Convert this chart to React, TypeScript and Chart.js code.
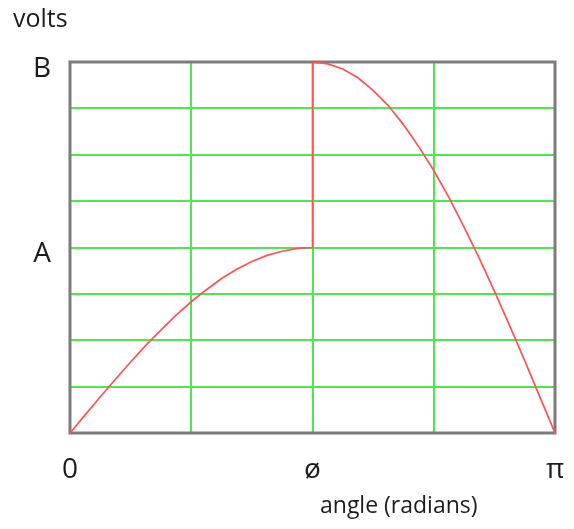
import { useEffect, useRef } from 'react';
import { Chart, registerables } from 'chart.js';

Chart.register(...registerables);

// Angle as a fraction of π, and the voltage at each angle (A = 4, B = 8 units).
const angleFrac = [
  0, 0.03125, 0.0625, 0.09375, 0.125, 0.15625, 0.1875, 0.21875, 0.25,
  0.28125, 0.3125, 0.34375, 0.375, 0.40625, 0.4375, 0.46875, 0.5,
  0.5, 0.53125, 0.5625, 0.59375, 0.625, 0.65625, 0.6875, 0.71875, 0.75,
  0.78125, 0.8125, 0.84375, 0.875, 0.90625, 0.9375, 0.96875, 1,
];
const volts = [
  0, 0.39, 0.78, 1.16, 1.53, 1.89, 2.22, 2.54, 2.83,
  3.09, 3.33, 3.53, 3.7, 3.83, 3.92, 3.98, 4.0,
  8.0, 7.96, 7.85, 7.66, 7.39, 7.06, 6.65, 6.18, 5.66,
  5.08, 4.44, 3.77, 3.06, 2.32, 1.56, 0.78, 0,
];

const xTickValues = [0, 0.5, 1];
const xTickLabels = ['0', 'ø', 'π'];
const yTickValues = [4, 8];
const yTickLabels = ['A', 'B'];
const yAxisTitle = 'volts';
const xAxisTitle = 'angle (radians)';

const textColor = '#1c1c1c';
const fontFamily = '"Open Sans", sans-serif';

// Grey frame around the plot area, drawn under the curve.
const framePlugin = {
  id: 'frame',
  beforeDatasetsDraw(chart: any) {
    const { ctx, chartArea } = chart;
    const { left, top, right, bottom } = chartArea;
    ctx.save();
    ctx.strokeStyle = '#7c7c7c';
    ctx.lineWidth = 3;
    ctx.strokeRect(left, top, right - left, bottom - top);
    ctx.restore();
  },
};

// Free-standing axis titles.
const titlesPlugin = {
  id: 'axisTitles',
  afterDraw(chart: any) {
    const { ctx, chartArea } = chart;
    ctx.save();
    ctx.fillStyle = textColor;
    ctx.textAlign = 'left';
    ctx.textBaseline = 'alphabetic';
    ctx.font = `25px ${fontFamily}`;
    ctx.fillText(yAxisTitle, chartArea.left - 57, chartArea.top - 35);
    ctx.font = `23px ${fontFamily}`;
    ctx.fillText(xAxisTitle, chartArea.left + 250, chartArea.bottom + 80);
    ctx.restore();
  },
};

export default function App() {
  const canvasRef = useRef<HTMLCanvasElement | null>(null);

  useEffect(() => {
    if (!canvasRef.current) return;
    const chart = new Chart(canvasRef.current, {
      type: 'line',
      data: {
        datasets: [
          {
            data: angleFrac.map((x, i) => ({ x, y: volts[i] })),
            borderColor: '#ff5252',
            borderWidth: 1.7,
            pointRadius: 0,
            tension: 0,
            fill: false,
          },
        ],
      },
      options: {
        responsive: false,
        animation: false,
        layout: { padding: { top: 54, right: 11, left: 0, bottom: 0 } },
        plugins: {
          legend: { display: false },
          tooltip: { enabled: false },
        },
        scales: {
          x: {
            type: 'linear',
            min: 0,
            max: 1,
            afterFit: (scale: any) => {
              scale.height = 88;
              scale.paddingLeft = 0;
              scale.paddingRight = 0;
            },
            ticks: {
              stepSize: 0.25,
              autoSkip: false,
              maxRotation: 0,
              padding: 20,
              color: textColor,
              font: { family: fontFamily, size: 28 },
              callback: (v: any) => {
                const i = xTickValues.indexOf(Number(v));
                return i >= 0 ? xTickLabels[i] : '';
              },
            },
            grid: { color: '#4ee84e', lineWidth: 2, drawTicks: false },
            border: { display: false },
          },
          y: {
            type: 'linear',
            min: 0,
            max: 8,
            afterFit: (scale: any) => {
              scale.width = 62;
              scale.paddingTop = 0;
              scale.paddingBottom = 0;
            },
            ticks: {
              stepSize: 1,
              autoSkip: false,
              padding: 19,
              labelOffset: 7,
              color: textColor,
              font: { family: fontFamily, size: 28 },
              callback: (v: any) => {
                const i = yTickValues.indexOf(Number(v));
                return i >= 0 ? yTickLabels[i] : '';
              },
            },
            grid: { color: '#4ee84e', lineWidth: 2, drawTicks: false },
            border: { display: false },
          },
        },
      },
      plugins: [framePlugin, titlesPlugin],
    });
    return () => chart.destroy();
  }, []);

  return <canvas ref={canvasRef} width={558} height={513} style={{ display: 'block' }} />;
}
